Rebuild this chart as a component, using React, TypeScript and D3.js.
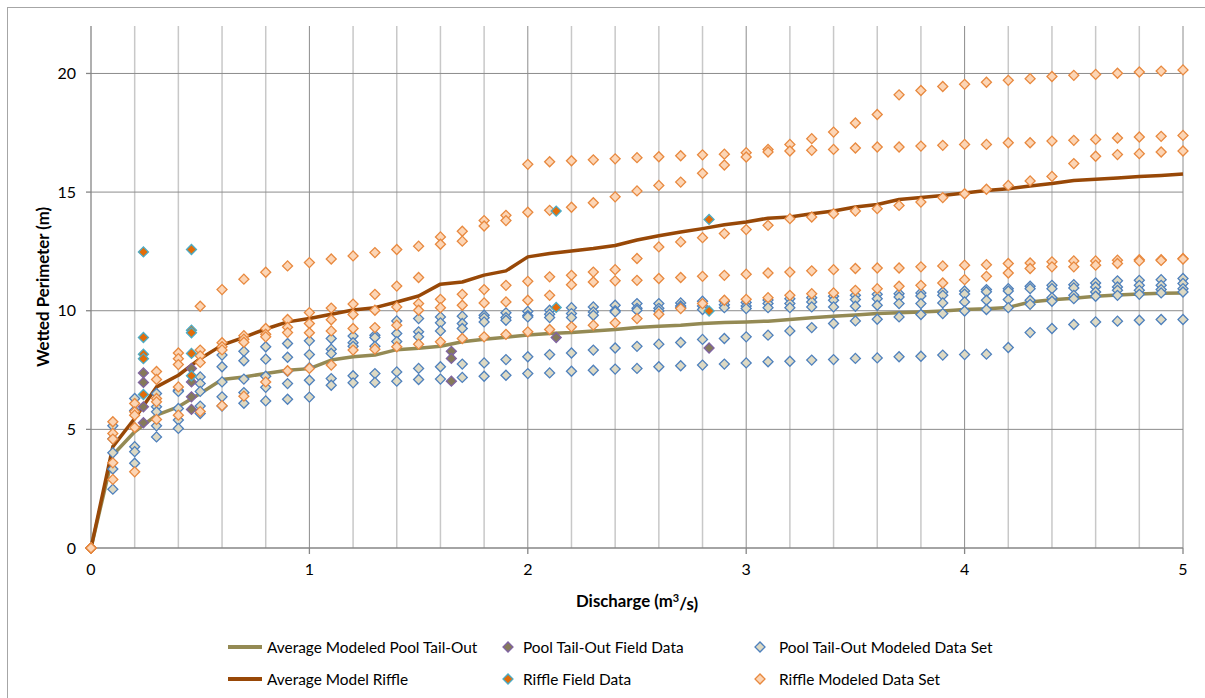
import * as d3 from 'd3';

// discharge (m3/s) for every modeled column
const discharge = [
  0, 0.1, 0.2, 0.3, 0.4, 0.5, 0.6, 0.7, 0.8, 0.9, 1.0,
  1.1, 1.2, 1.3, 1.4, 1.5, 1.6, 1.7, 1.8, 1.9, 2.0,
  2.1, 2.2, 2.3, 2.4, 2.5, 2.6, 2.7, 2.8, 2.9, 3.0,
  3.1, 3.2, 3.3, 3.4, 3.5, 3.6, 3.7, 3.8, 3.9, 4.0,
  4.1, 4.2, 4.3, 4.4, 4.5, 4.6, 4.7, 4.8, 4.9, 5.0,
];

// riffle modeled cross sections
const riffleSet1 = [
  0, 5.32, 6.09, 7.44, 8.22, 10.19, 10.89, 11.33, 11.62, 11.89, 12.03,
  12.18, 12.31, 12.45, 12.58, 12.72, 13.11, 13.35, 13.8, 14.02, 16.17,
  16.28, 16.32, 16.36, 16.4, 16.45, 16.49, 16.53, 16.57, 16.6, 16.66,
  16.8, 17.01, 17.25, 17.53, 17.91, 18.27, 19.1, 19.28, 19.45, 19.54,
  19.63, 19.71, 19.78, 19.87, 19.92, 19.96, 20.01, 20.06, 20.1, 20.15,
];
const riffleSet2 = [
  0, 4.83, 5.74, 7.1, 7.98, 8.34, 8.65, 8.95, 9.25, 9.63, 9.92,
  10.11, 10.28, 10.69, 11.04, 11.4, 12.8, 12.93, 13.57, 13.8, 14.15,
  14.23, 14.36, 14.55, 14.8, 15.05, 15.28, 15.42, 15.79, 16.14, 16.48,
  16.69, 16.73, 16.76, 16.8, 16.86, 16.9, 16.9, 16.94, 16.97, 17.01,
  17.01, 17.08, 17.08, 17.15, 17.18, 17.22, 17.28, 17.32, 17.35, 17.39,
];
const riffleSet3 = [
  0, 4.59, 5.6, 6.3, 7.73, 8.1, 8.48, 8.8, 9.01, 9.3, 9.46,
  9.62, 9.84, 10.02, 10.16, 10.3, 10.48, 10.69, 10.89, 11.07, 11.24,
  11.43, 11.49, 11.63, 11.73, 12.2, 12.69, 12.9, 13.08, 13.25, 13.42,
  13.6, 13.88, 13.95, 14.09, 14.2, 14.3, 14.44, 14.58, 14.77, 14.93,
  15.12, 15.28, 15.47, 15.66, 16.2, 16.51, 16.58, 16.62, 16.69, 16.73,
];
const riffleSet4 = [
  0, 3.59, 5.08, 6.16, 6.79, 7.82, 8.35, 8.67, 8.9, 9.08, 9.07,
  9.15, 9.25, 9.29, 9.39, 10.02, 10.13, 10.23, 10.33, 10.37, 10.44,
  10.65, 11.1, 11.21, 11.26, 11.28, 11.36, 11.4, 11.45, 11.49, 11.54,
  11.59, 11.63, 11.68, 11.73, 11.78, 11.8, 11.8, 11.85, 11.89, 11.92,
  11.94, 11.99, 12.01, 12.06, 12.1, 12.1, 12.13, 12.15, 12.15, 12.2,
];
const riffleSet5 = [
  0, 2.89, 3.21, 5.42, 5.6, 5.75, 6.0, 6.4, 7.0, 7.47, 7.57,
  7.71, 8.34, 8.38, 8.48, 8.59, 8.69, 8.83, 8.9, 9.0, 9.11,
  9.21, 9.32, 9.39, 9.49, 9.67, 9.85, 10.09, 10.3, 10.44, 10.48,
  10.55, 10.65, 10.72, 10.75, 10.86, 10.93, 11.03, 11.07, 11.17, 11.31,
  11.45, 11.59, 11.78, 11.85, 11.85, 11.92, 11.99, 12.1, 12.12, 12.18,
];

// pool tail-out modeled cross sections
const poolSet1 = [
  0, 5.15, 6.3, 6.51, 6.65, 7.21, 8.13, 8.29, 8.48, 8.62, 8.73,
  8.83, 8.93, 8.97, 9.57, 9.67, 9.74, 9.77, 9.81, 9.91, 9.97,
  10.02, 10.13, 10.16, 10.23, 10.3, 10.3, 10.33, 10.4, 10.4, 10.35,
  10.45, 10.5, 10.55, 10.61, 10.65, 10.69, 10.72, 10.75, 10.79, 10.83,
  10.89, 10.93, 11.03, 11.07, 11.1, 11.17, 11.26, 11.28, 11.31, 11.36,
];
const poolSet2 = [
  0, 4.6, 5.8, 5.95, 6.6, 6.93, 7.64, 7.89, 7.96, 8.04, 8.15,
  8.38, 8.65, 8.87, 9.04, 9.11, 9.49, 9.46, 9.7, 9.71, 9.8,
  9.85, 9.88, 9.95, 10.0, 10.1, 10.1, 10.2, 10.2, 10.25, 10.2,
  10.3, 10.3, 10.37, 10.44, 10.47, 10.51, 10.58, 10.62, 10.65, 10.7,
  10.8, 10.83, 10.93, 10.93, 10.96, 11.0, 11.0, 11.07, 11.07, 11.15,
];
const poolSet3 = [
  0, 4.01, 4.27, 5.74, 5.88, 6.6, 7.0, 7.12, 7.24, 7.45, 7.6,
  8.2, 8.5, 8.5, 8.7, 8.9, 9.15, 9.25, 9.53, 9.6, 9.74,
  9.71, 9.71, 9.81, 9.95, 10.02, 9.99, 10.13, 10.05, 10.13, 10.09,
  10.13, 10.13, 10.16, 10.16, 10.19, 10.23, 10.3, 10.3, 10.33, 10.37,
  10.44, 10.47, 10.44, 10.55, 10.65, 10.79, 10.86, 10.86, 10.89, 10.93,
];
const poolSet4 = [
  0, 3.33, 4.06, 5.15, 5.39, 5.98, 6.37, 6.55, 6.77, 6.93, 7.07,
  7.14, 7.26, 7.35, 7.42, 7.57, 7.64, 7.75, 7.8, 7.94, 8.06,
  8.15, 8.22, 8.34, 8.43, 8.5, 8.59, 8.66, 8.79, 8.83, 8.9,
  8.97, 9.15, 9.29, 9.46, 9.57, 9.64, 9.74, 9.84, 9.88, 9.99,
  10.05, 10.13, 10.27, 10.4, 10.51, 10.61, 10.65, 10.69, 10.75, 10.79,
];
const poolSet5 = [
  0, 2.48, 3.57, 4.68, 5.04, 5.67, 5.98, 6.1, 6.2, 6.27, 6.36,
  6.86, 6.96, 6.98, 7.03, 7.1, 7.12, 7.19, 7.24, 7.28, 7.35,
  7.38, 7.45, 7.49, 7.54, 7.57, 7.64, 7.68, 7.71, 7.75, 7.8,
  7.85, 7.87, 7.92, 7.94, 7.99, 8.01, 8.06, 8.08, 8.13, 8.15,
  8.17, 8.45, 9.08, 9.25, 9.42, 9.53, 9.56, 9.6, 9.63, 9.63,
];

// averages
const avgPoolTailOut = [
  0, 3.92, 4.9, 5.6, 5.95, 6.51, 7.1, 7.21, 7.35, 7.49, 7.56,
  7.92, 8.06, 8.13, 8.36, 8.42, 8.5, 8.69, 8.8, 8.88, 8.98,
  9.04, 9.08, 9.15, 9.21, 9.29, 9.35, 9.39, 9.46, 9.5, 9.53,
  9.56, 9.63, 9.7, 9.77, 9.82, 9.88, 9.91, 9.95, 9.99, 10.05,
  10.08, 10.14, 10.37, 10.46, 10.53, 10.61, 10.66, 10.7, 10.74, 10.75,
];
const avgModelRiffle = [
  0, 4.27, 5.46, 6.79, 7.28, 7.98, 8.55, 8.88, 9.23, 9.53, 9.67,
  9.85, 10.03, 10.13, 10.37, 10.62, 11.12, 11.21, 11.5, 11.68, 12.27,
  12.41, 12.52, 12.62, 12.75, 12.98, 13.16, 13.32, 13.46, 13.62, 13.74,
  13.9, 13.95, 14.09, 14.2, 14.37, 14.48, 14.69, 14.77, 14.86, 14.96,
  15.07, 15.14, 15.26, 15.36, 15.49, 15.54, 15.59, 15.66, 15.7, 15.76,
];

// field measurements
const poolFieldQ = [0.24, 0.24, 0.24, 0.24, 0.46, 0.46, 0.46, 0.46, 1.65, 1.65, 1.65, 2.13, 2.83];
const poolFieldWP = [7.38, 6.98, 5.95, 5.28, 7.57, 7.0, 6.37, 5.84, 8.29, 7.99, 7.03, 8.87, 8.43];
const riffleFieldQ = [0.24, 0.24, 0.24, 0.24, 0.24, 0.46, 0.46, 0.46, 0.46, 0.46, 2.13, 2.13, 2.83, 2.83];
const riffleFieldWP = [12.48, 8.87, 8.17, 7.98, 6.47, 12.58, 9.18, 9.07, 8.2, 7.26, 14.2, 10.14, 13.85, 9.99];

const xTicks = [0, 1, 2, 3, 4, 5];
const yTicks = [0, 5, 10, 15, 20];

const FONT = 'Lato, "Open Sans", sans-serif';

export default function App() {
  const width = 1205;
  const height = 698;

  const x = d3.scaleLinear().domain([0, 5]).range([91, 1183]);
  const y = d3.scaleLinear().domain([0, 22]).range([548, 26]);

  const minorX = x.ticks(25).filter(v => Math.abs(v - Math.round(v)) > 1e-6);

  const line = d3.line<number>()
    .x((_, i) => x(discharge[i]))
    .y(d => y(d));

  const diamond = d3.symbol(d3.symbolSquare, 50)()!;

  const riffleSets = [riffleSet1, riffleSet2, riffleSet3, riffleSet4, riffleSet5];
  const poolSets = [poolSet1, poolSet2, poolSet3, poolSet4, poolSet5];

  const marker = (cx: number, cy: number, fill: string, stroke: string, key: string) => (
    <path key={key} d={diamond} transform={`translate(${cx},${cy}) rotate(45)`}
      fill={fill} stroke={stroke} strokeWidth={1.3} />
  );

  const poolModeled = { fill: '#ddd9c3', stroke: '#4f81bd' };
  const riffleModeled = { fill: '#fcd5b5', stroke: '#e8893f' };
  const poolField = { fill: '#857a5a', stroke: '#8064a2' };
  const riffleField = { fill: '#e36c09', stroke: '#4bacc6' };

  return (
    <svg width={width} height={height} style={{ position: 'absolute', left: 0, top: 0, background: '#fff' }}
      fontFamily={FONT}>
      <rect x={7.5} y={7.5} width={1210} height={710} fill="#fff" stroke="#a6a6a6" strokeWidth={1} />

      {/* minor vertical grid */}
      {minorX.map(v => (
        <line key={`m${v}`} x1={x(v)} x2={x(v)} y1={26} y2={548} stroke="#c8c8c8" strokeWidth={1.5} />
      ))}
      {/* major grid */}
      {xTicks.slice(1).map(v => (
        <line key={`gx${v}`} x1={x(v)} x2={x(v)} y1={26} y2={548} stroke="#8c8c8c" strokeWidth={1} />
      ))}
      {yTicks.slice(1).map(v => (
        <line key={`gy${v}`} x1={91} x2={1183} y1={y(v)} y2={y(v)} stroke="#8c8c8c" strokeWidth={1} />
      ))}

      {/* axes */}
      <line x1={91} x2={91} y1={26} y2={548} stroke="#868686" strokeWidth={1.3} />
      <line x1={86} x2={1183} y1={548} y2={548} stroke="#868686" strokeWidth={1.3} />
      {yTicks.map(v => (
        <g key={`yt${v}`}>
          <line x1={86} x2={91} y1={y(v)} y2={y(v)} stroke="#868686" strokeWidth={1.3} />
          <text x={76} y={y(v)} dy="0.36em" textAnchor="end" fontSize={16} fill="#000">{v}</text>
        </g>
      ))}
      {xTicks.map(v => (
        <g key={`xt${v}`}>
          <line x1={x(v)} x2={x(v)} y1={548} y2={554} stroke="#868686" strokeWidth={1.3} />
          <text x={x(v)} y={569} dy="0.36em" textAnchor="middle" fontSize={16} fill="#000">{v}</text>
        </g>
      ))}

      <text transform="translate(43,287) rotate(-90)" textAnchor="middle" dy="0.36em"
        fontSize={16.8} fontWeight="bold" fill="#000">Wetted Perimeter (m)</text>
      <text x={637} y={601} dy="0.36em" textAnchor="middle" fontSize={16.8} fontWeight="bold" fill="#000">
        Discharge (m<tspan fontSize={11} dy="-0.5em">3</tspan><tspan dy="0.5em">/s)</tspan>
      </text>

      {/* average lines */}
      <path d={line(avgPoolTailOut)!} fill="none" stroke="#948a54" strokeWidth={3.5} strokeLinejoin="round" />
      <path d={line(avgModelRiffle)!} fill="none" stroke="#984807" strokeWidth={3.5} strokeLinejoin="round" />

      {/* modeled data sets */}
      {poolSets.map((s, k) => s.map((v, i) =>
        marker(x(discharge[i]), y(v), poolModeled.fill, poolModeled.stroke, `p${k}-${i}`)))}
      {riffleSets.map((s, k) => s.map((v, i) =>
        marker(x(discharge[i]), y(v), riffleModeled.fill, riffleModeled.stroke, `r${k}-${i}`)))}

      {/* field data */}
      {poolFieldQ.map((q, i) => marker(x(q), y(poolFieldWP[i]), poolField.fill, poolField.stroke, `pf${i}`))}
      {riffleFieldQ.map((q, i) => marker(x(q), y(riffleFieldWP[i]), riffleField.fill, riffleField.stroke, `rf${i}`))}

      {/* legend */}
      <g fontSize={15.4} fill="#000">
        <line x1={228} x2={262} y1={647} y2={647} stroke="#948a54" strokeWidth={4} />
        <text x={267} y={647} dy="0.36em">Average Modeled Pool Tail-Out</text>
        {marker(508, 647, poolField.fill, poolField.stroke, 'lg1')}
        <text x={523} y={647} dy="0.36em">Pool Tail-Out Field Data</text>
        {marker(760, 647, poolModeled.fill, poolModeled.stroke, 'lg2')}
        <text x={779} y={647} dy="0.36em">Pool Tail-Out Modeled Data Set</text>

        <line x1={228} x2={262} y1={679} y2={679} stroke="#984807" strokeWidth={4} />
        <text x={267} y={679} dy="0.36em">Average Model Riffle</text>
        {marker(508, 679, riffleField.fill, riffleField.stroke, 'lg3')}
        <text x={523} y={679} dy="0.36em">Riffle Field Data</text>
        {marker(760, 679, riffleModeled.fill, riffleModeled.stroke, 'lg4')}
        <text x={779} y={679} dy="0.36em">Riffle Modeled Data Set</text>
      </g>
    </svg>
  );
}
